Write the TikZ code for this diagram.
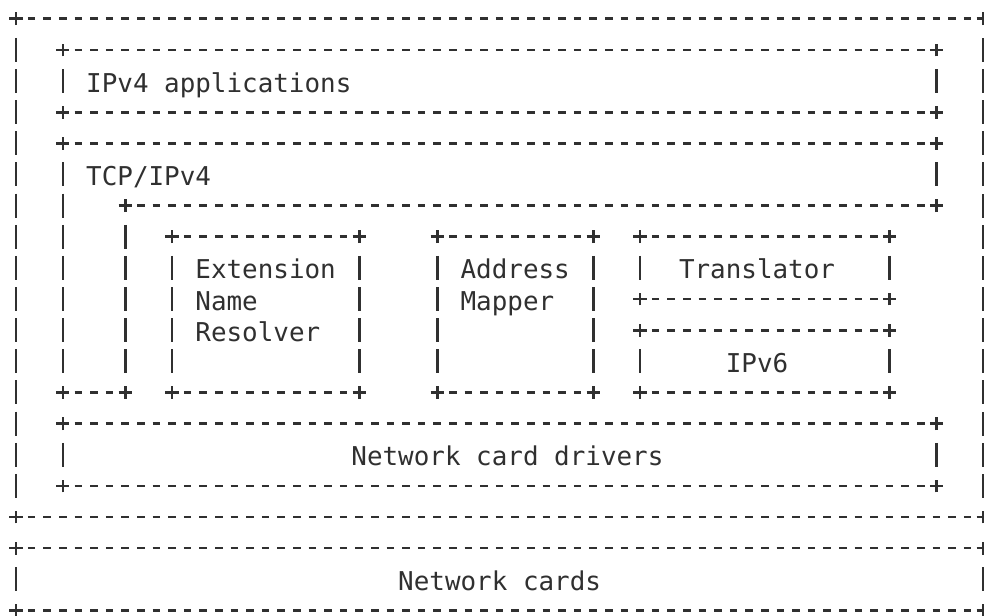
\documentclass[tikz,border=0pt]{standalone}
\usepackage{fontspec}
\newfontfamily\asciimono{DejaVu Sans Mono}
\definecolor{ink}{HTML}{303030}
\tikzset{
  glyph/.style={draw=ink, line width=1.3pt, line cap=butt},
  hrule/.style={glyph, dash pattern=on 3.8pt off 4pt, shorten <=5.9pt, shorten >=5.9pt},
  vrule/.style={glyph, dash pattern=on 12pt off 3.57pt, shorten <=9.57pt, shorten >=9.57pt},
  crossmark/.pic={\draw[glyph] (-3.3pt,0pt) -- (3.3pt,0pt) (0pt,-3.2pt) -- (0pt,3.2pt);},
  txt/.style={anchor=base west, inner sep=0pt, outer sep=0pt, text=ink,
    font=\asciimono\fontsize{12.956pt}{15.57pt}\selectfont, yshift=-5.5pt},
}
% box drawn in the ASCII-art manner: name, left col, top row, right col, bottom row
\newcommand\asciibox[5]{%
  \coordinate (#1-nw) at (#2,#3);
  \coordinate (#1-ne) at (#4,#3);
  \coordinate (#1-sw) at (#2,#5);
  \coordinate (#1-se) at (#4,#5);
  \draw[hrule] (#1-nw) -- (#1-ne);
  \draw[hrule] (#1-sw) -- (#1-se);
  \draw[vrule] (#1-nw) -- (#1-sw);
  \draw[vrule] (#1-ne) -- (#1-se);
  \pic at (#1-nw) {crossmark};
  \pic at (#1-ne) {crossmark};
  \pic at (#1-sw) {crossmark};
  \pic at (#1-se) {crossmark};
}
\begin{document}
\begin{tikzpicture}[x=7.8pt, y=-15.57pt]
\path[use as bounding box, fill=white] (-1.0256,-0.6037) rectangle (62.05,19.146);

% outer host box and network cards
\asciibox{host}{0}{0}{62}{16}
\asciibox{cards}{0}{17}{62}{19}

% IPv4 applications
\asciibox{apps}{3}{1}{59}{3}

% TCP/IPv4 (L-shaped)
\coordinate (tcp-nw) at (3,4);
\coordinate (tcp-ne) at (59,4);
\coordinate (tcp-se) at (59,6);
\coordinate (tcp-in) at (7,6);
\coordinate (tcp-sin) at (7,12);
\coordinate (tcp-sw) at (3,12);
\draw[hrule] (tcp-nw) -- (tcp-ne);
\draw[vrule] (tcp-ne) -- (tcp-se);
\draw[hrule] (tcp-in) -- (tcp-se);
\draw[vrule] (tcp-in) -- (tcp-sin);
\draw[hrule] (tcp-sw) -- (tcp-sin);
\draw[vrule] (tcp-nw) -- (tcp-sw);
\foreach \k in {nw,ne,se,in,sin,sw} \pic at (tcp-\k) {crossmark};

% inner modules
\asciibox{ext}{10}{7}{22}{12}
\asciibox{addr}{27}{7}{37}{12}
\asciibox{trans}{40}{7}{56}{9}
\asciibox{vsix}{40}{10}{56}{12}

% network card drivers
\asciibox{drv}{3}{13}{59}{15}

% texts
\node[txt] (t-apps)  at (4.5,2)  {IPv4 applications};
\node[txt] (t-tcp)   at (4.5,5)  {TCP/IPv4};
\node[txt] (t-ext1)  at (11.5,8) {Extension};
\node[txt] (t-ext2)  at (11.5,9) {Name};
\node[txt] (t-ext3)  at (11.5,10) {Resolver};
\node[txt] (t-addr1) at (28.5,8) {Address};
\node[txt] (t-addr2) at (28.5,9) {Mapper};
\node[txt] (t-trans) at (42.5,8) {Translator};
\node[txt] (t-vsix)  at (45.5,11) {IPv6};
\node[txt] (t-drv)   at (21.5,14) {Network card drivers};
\node[txt] (t-cards) at (24.5,18) {Network cards};
\end{tikzpicture}
\end{document}
